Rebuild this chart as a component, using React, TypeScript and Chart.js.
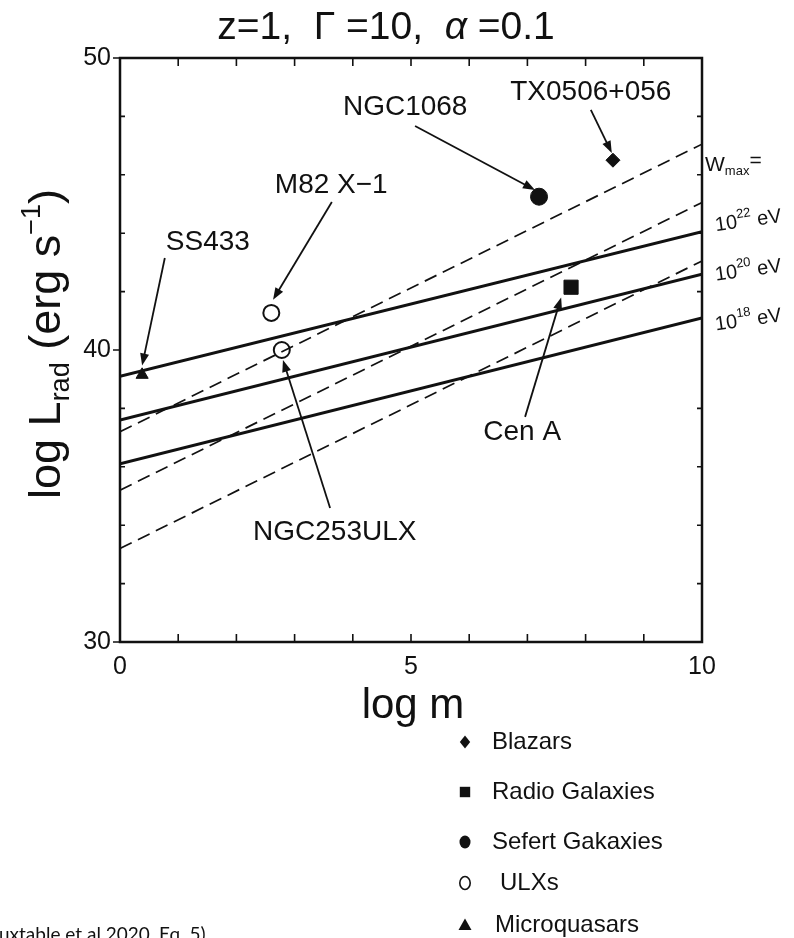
import React, { useEffect, useRef } from "react";
import { Chart, registerables } from "chart.js";

Chart.register(...registerables);

const FONT = '"Liberation Sans", Arial, Helvetica, sans-serif';
const INK = "#111111";

// ---- axes ----
const X_MIN = 0;
const X_MAX = 10;
const Y_MIN = 30;
const Y_MAX = 50;
const X_LABEL_STEP = 5;
const Y_LABEL_STEP = 10;
const X_MINOR_TICKS = [1, 2, 3, 4, 5, 6, 7, 8, 9];
const Y_MINOR_TICKS = [32, 34, 36, 38, 42, 44, 46, 48];
const Y_MAJOR_TICKS = [30, 40, 50];

// ---- model lines (log m endpoints and log L values) ----
const lineX = [0, 10];
const solidTop = [39.1, 44.05];
const solidMid = [37.6, 42.6];
const solidLow = [36.1, 41.1];
const dashedTop = [37.2, 47.05];
const dashedMid = [35.2, 45.05];
const dashedLow = [33.2, 43.05];

// ---- sources ----
const blazarsX = [8.47];
const blazarsY = [46.5];
const radioX = [7.75];
const radioY = [42.15];
const seyfertX = [7.2];
const seyfertY = [45.25];
const ulxX = [2.6, 2.78];
const ulxY = [41.27, 40.0];
const microX = [0.38];
const microY = [39.15];

// ---- annotations ----
const annotLabels = ["SS433", "M82 X\u22121", "NGC1068", "TX0506+056", "Cen A", "NGC253ULX"];
const annotLabelX = [1.51, 3.63, 4.9, 8.09, 6.91, 3.69];
const annotLabelY = [43.7, 45.65, 48.32, 48.84, 37.19, 33.77];
const arrowFromX = [0.77, 3.64, 5.07, 8.09, 6.96, 3.61];
const arrowFromY = [43.15, 45.07, 47.67, 48.22, 37.71, 34.59];
const arrowToX = [0.38, 2.63, 7.13, 8.45, 7.58, 2.8];
const arrowToY = [39.47, 41.72, 45.48, 46.75, 41.8, 39.66];

// ---- right-hand labels ----
const wmaxY = 46.4;
const energyExp = ["22", "20", "18"];
const energyY = [44.5, 42.8, 41.1];

// ---- legend ----
const legendLabels = ["Blazars", "Radio Galaxies", "Sefert Gakaxies", "ULXs", "Microquasars"];
const legendMarkers = ["diamond", "square", "disc", "ring", "triangle"];

const toPts = (xs: number[], ys: number[]) => xs.map((x, i) => ({ x, y: ys[i] }));

type Seg = { t: string; size: number; dy?: number; italic?: boolean; family?: string };

function segFont(s: Seg) {
  return `${s.italic ? "italic " : ""}${s.size}px ${s.family || FONT}`;
}

function drawRich(ctx: CanvasRenderingContext2D, segs: Seg[], cx: number, baseY: number) {
  let total = 0;
  for (const s of segs) {
    ctx.font = segFont(s);
    total += ctx.measureText(s.t).width;
  }
  let x = cx - total / 2;
  ctx.textAlign = "left";
  ctx.textBaseline = "alphabetic";
  for (const s of segs) {
    ctx.font = segFont(s);
    ctx.fillText(s.t, x, baseY + (s.dy || 0));
    x += ctx.measureText(s.t).width;
  }
}

function drawMarker(ctx: CanvasRenderingContext2D, kind: string, x: number, y: number, r: number) {
  ctx.save();
  ctx.fillStyle = INK;
  ctx.strokeStyle = INK;
  ctx.beginPath();
  if (kind === "diamond") {
    ctx.moveTo(x, y - r);
    ctx.lineTo(x + r * 0.8, y);
    ctx.lineTo(x, y + r);
    ctx.lineTo(x - r * 0.8, y);
    ctx.closePath();
    ctx.fill();
  } else if (kind === "square") {
    ctx.rect(x - r * 0.8, y - r * 0.8, r * 1.6, r * 1.6);
    ctx.fill();
  } else if (kind === "disc") {
    ctx.ellipse(x, y, r * 0.85, r, 0, 0, Math.PI * 2);
    ctx.fill();
  } else if (kind === "ring") {
    ctx.lineWidth = 1.6;
    ctx.ellipse(x, y, r * 0.8, r, 0, 0, Math.PI * 2);
    ctx.stroke();
  } else {
    ctx.moveTo(x, y - r);
    ctx.lineTo(x + r, y + r * 0.75);
    ctx.lineTo(x - r, y + r * 0.75);
    ctx.closePath();
    ctx.fill();
  }
  ctx.restore();
}

function drawArrow(ctx: CanvasRenderingContext2D, x1: number, y1: number, x2: number, y2: number) {
  const ang = Math.atan2(y2 - y1, x2 - x1);
  const len = 12;
  const half = 4.5;
  ctx.save();
  ctx.strokeStyle = INK;
  ctx.fillStyle = INK;
  ctx.lineWidth = 1.8;
  ctx.beginPath();
  ctx.moveTo(x1, y1);
  ctx.lineTo(x2 - Math.cos(ang) * len * 0.8, y2 - Math.sin(ang) * len * 0.8);
  ctx.stroke();
  ctx.beginPath();
  ctx.moveTo(x2, y2);
  ctx.lineTo(
    x2 - Math.cos(ang) * len + Math.sin(ang) * half,
    y2 - Math.sin(ang) * len - Math.cos(ang) * half
  );
  ctx.lineTo(
    x2 - Math.cos(ang) * len - Math.sin(ang) * half,
    y2 - Math.sin(ang) * len + Math.cos(ang) * half
  );
  ctx.closePath();
  ctx.fill();
  ctx.restore();
}

const decorPlugin = {
  id: "decor",
  afterDraw(chart: any) {
    const ctx: CanvasRenderingContext2D = chart.ctx;
    const xs = chart.scales.x;
    const ys = chart.scales.y;
    const a = chart.chartArea;
    ctx.save();

    // frame
    ctx.strokeStyle = INK;
    ctx.lineWidth = 2.5;
    ctx.strokeRect(a.left, a.top, a.right - a.left, a.bottom - a.top);

    // ticks
    ctx.lineWidth = 1.6;
    ctx.beginPath();
    for (const v of X_MINOR_TICKS) {
      const px = xs.getPixelForValue(v);
      ctx.moveTo(px, a.bottom);
      ctx.lineTo(px, a.bottom - 8);
      ctx.moveTo(px, a.top);
      ctx.lineTo(px, a.top + 8);
    }
    for (const v of Y_MINOR_TICKS) {
      const py = ys.getPixelForValue(v);
      ctx.moveTo(a.left, py);
      ctx.lineTo(a.left + 5, py);
      ctx.moveTo(a.right, py);
      ctx.lineTo(a.right - 5, py);
    }
    for (const v of Y_MAJOR_TICKS) {
      const py = ys.getPixelForValue(v);
      ctx.moveTo(a.left - 7, py);
      ctx.lineTo(a.left, py);
    }
    ctx.stroke();

    // annotations
    ctx.fillStyle = INK;
    ctx.font = `28px ${FONT}`;
    ctx.textAlign = "center";
    ctx.textBaseline = "middle";
    annotLabels.forEach((t, i) => {
      ctx.fillText(t, xs.getPixelForValue(annotLabelX[i]), ys.getPixelForValue(annotLabelY[i]));
    });
    annotLabels.forEach((_, i) => {
      drawArrow(
        ctx,
        xs.getPixelForValue(arrowFromX[i]),
        ys.getPixelForValue(arrowFromY[i]),
        xs.getPixelForValue(arrowToX[i]),
        ys.getPixelForValue(arrowToY[i])
      );
    });

    // right labels
    ctx.fillStyle = INK;
    const wy = ys.getPixelForValue(wmaxY);
    ctx.textAlign = "left";
    ctx.textBaseline = "alphabetic";
    ctx.font = `21px ${FONT}`;
    ctx.fillText("W", a.right + 3, wy + 8);
    let wx = a.right + 3 + ctx.measureText("W").width;
    ctx.font = `13px ${FONT}`;
    ctx.fillText("max", wx, wy + 12);
    wx += ctx.measureText("max").width;
    ctx.font = `21px ${FONT}`;
    ctx.fillText("=", wx, wy + 4);

    energyExp.forEach((ex, i) => {
      const py = ys.getPixelForValue(energyY[i]);
      ctx.save();
      ctx.translate(a.right + 46, py);
      ctx.rotate((-8 * Math.PI) / 180);
      drawRich(
        ctx,
        [
          { t: "10", size: 20 },
          { t: ex, size: 13, dy: -10 },
          { t: " eV", size: 20 },
        ],
        0,
        8
      );
      ctx.restore();
    });

    // title
    drawRich(
      ctx,
      [
        { t: "z=1,  \u0393 =10,  ", size: 39 },
        { t: "\u03b1", size: 39, italic: true },
        { t: " =0.1", size: 39 },
      ],
      386,
      39
    );

    // x title
    drawRich(ctx, [{ t: "log m", size: 42 }], (a.left + a.right) / 2 + 2, 718);

    // y title
    ctx.save();
    ctx.translate(44, (a.top + a.bottom) / 2 - 6);
    ctx.rotate(-Math.PI / 2);
    drawRich(
      ctx,
      [
        { t: "log L", size: 45 },
        { t: "rad", size: 27, dy: 9 },
        { t: " (erg s", size: 45 },
        { t: "\u22121", size: 27, dy: -20 },
        { t: ")", size: 45 },
      ],
      0,
      16
    );
    ctx.restore();

    // legend
    const legendRowY = [742, 792, 842, 883, 925];
    const legendTextX = [492, 492, 492, 500, 495];
    legendLabels.forEach((t, i) => {
      drawMarker(ctx, legendMarkers[i], 465, legendRowY[i], 6.5);
      ctx.fillStyle = INK;
      ctx.font = `24px ${FONT}`;
      ctx.textAlign = "left";
      ctx.textBaseline = "middle";
      ctx.fillText(t, legendTextX[i], legendRowY[i]);
    });

    // footnote (cut off at page edge)
    ctx.fillStyle = INK;
    ctx.font = `19px Lato, "Open Sans", sans-serif`;
    ctx.textAlign = "left";
    ctx.textBaseline = "alphabetic";
    ctx.fillText("uxtable et al 2020, Eq. 5)", -1, 941);

    ctx.restore();
  },
};

export default function App() {
  const ref = useRef<HTMLCanvasElement | null>(null);

  useEffect(() => {
    const canvas = ref.current;
    if (!canvas) return;
    const lineDs = (ys: number[], dashed: boolean) => ({
      type: "line" as const,
      data: toPts(lineX, ys),
      borderColor: INK,
      borderWidth: dashed ? 1.7 : 3,
      borderDash: dashed ? [13, 7] : [],
      pointRadius: 0,
      fill: false,
      tension: 0,
    });
    const ptDs = (xs: number[], ys: number[], style: string, r: number, filled: boolean) => ({
      type: "scatter" as const,
      data: toPts(xs, ys),
      pointStyle: style,
      pointRadius: r,
      pointBackgroundColor: filled ? INK : "#ffffff",
      pointBorderColor: INK,
      pointBorderWidth: filled ? 1 : 2,
      showLine: false,
    });

    const chart = new Chart(canvas, {
      type: "scatter",
      data: {
        datasets: [
          lineDs(solidTop, false),
          lineDs(solidMid, false),
          lineDs(solidLow, false),
          lineDs(dashedTop, true),
          lineDs(dashedMid, true),
          lineDs(dashedLow, true),
          ptDs(blazarsX, blazarsY, "rectRot", 7, true),
          ptDs(radioX, radioY, "rect", 10, true),
          ptDs(seyfertX, seyfertY, "circle", 8.5, true),
          ptDs(ulxX, ulxY, "circle", 8, false),
          ptDs(microX, microY, "triangle", 7, true),
        ] as any,
      },
      options: {
        responsive: false,
        animation: false,
        devicePixelRatio: 1,
        layout: { padding: { left: 0, right: 92, top: 58, bottom: 0 } },
        plugins: {
          legend: { display: false },
          tooltip: { enabled: false },
          title: { display: false },
        },
        scales: {
          x: {
            type: "linear",
            min: X_MIN,
            max: X_MAX,
            grid: { display: false, drawTicks: false },
            border: { display: false },
            ticks: {
              stepSize: X_LABEL_STEP,
              color: INK,
              padding: 10,
              maxRotation: 0,
              font: { family: FONT, size: 25 },
              callback: (v: any) => String(v),
            },
            afterFit: (s: any) => {
              s.height = 296;
            },
          },
          y: {
            type: "linear",
            min: Y_MIN,
            max: Y_MAX,
            grid: { display: false, drawTicks: false },
            border: { display: false },
            ticks: {
              stepSize: Y_LABEL_STEP,
              color: INK,
              padding: 9,
              font: { family: FONT, size: 25 },
              callback: (v: any) => String(v),
            },
            afterFit: (s: any) => {
              s.width = 120;
            },
          },
        },
      } as any,
      plugins: [decorPlugin],
    });
    return () => chart.destroy();
  }, []);

  return (
    <div style={{ position: "absolute", left: 0, top: 0, width: 794, height: 938, background: "#fff", overflow: "hidden" }}>
      <canvas ref={ref} width={794} height={938} style={{ width: 794, height: 938, display: "block" }} />
    </div>
  );
}
